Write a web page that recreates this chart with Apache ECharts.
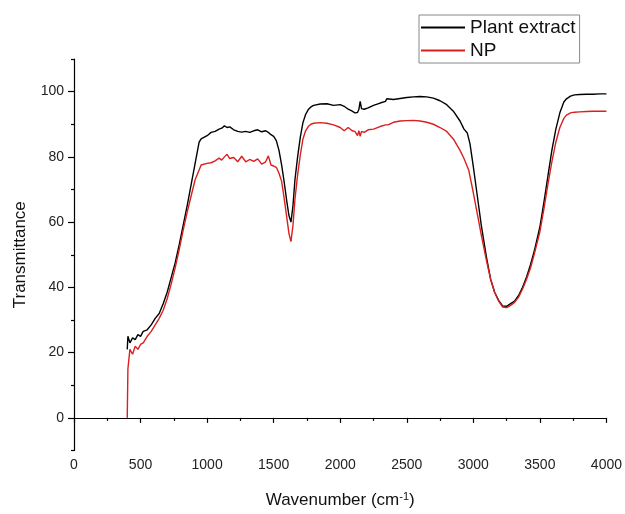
<!DOCTYPE html>
<html>
<head>
<meta charset="utf-8">
<script src="https://cdn.jsdelivr.net/npm/echarts@6/dist/echarts.min.js"></script>
<style>
html,body{margin:0;padding:0;background:#fff;}
#chart{width:625px;height:514px;}
</style>
</head>
<body>
<div id="chart"></div>
<script>
var seriesNames = ['Plant extract', 'NP'];
var wavenumber = [400,405,420,440,460,480,500,520,550,580,610,640,670,700,730,760,790,820,850,880,910,940,955,970,1000,1030,1060,1090,1110,1130,1150,1170,1200,1230,1260,1290,1320,1350,1380,1410,1440,1460,1480,1500,1520,1540,1560,1580,1600,1615,1630,1645,1660,1680,1700,1720,1740,1760,1780,1800,1850,1900,1950,2000,2030,2060,2090,2110,2130,2140,2150,2160,2180,2210,2250,2300,2340,2350,2360,2400,2450,2500,2550,2600,2650,2700,2750,2800,2850,2900,2930,2955,2965,2975,3000,3030,3060,3100,3130,3160,3190,3220,3250,3280,3310,3340,3370,3400,3430,3460,3500,3530,3560,3590,3620,3650,3680,3700,3730,3760,3800,3850,3900,3950,4000];
var plantExtract = [21,25,23,24.5,24,25.5,25,26.5,27,28.5,30.5,32,35,38.5,43,47.5,53,59,65,71.5,78,84.5,85.5,85.8,86.5,87.5,87.8,88.5,88.8,89.5,89,89.2,88.3,87.8,87.6,87.8,87.5,88,88.3,87.7,88,87.5,86.8,86.3,85,82,77.5,72,66,62,60,65,73,80,86,90.5,93,94.5,95.3,95.8,96.2,96.3,95.8,96,95.5,94.6,94,93.5,93.6,94.5,97,94.8,94.6,95,95.8,96.5,97,97.8,97.2,97.6,97.9,98.2,98.4,98.5,98.4,98,97.2,96,94,91,88.5,87.3,87.5,84,77,68,59,49,42.5,38.5,36,34.3,34.2,35,35.8,37.5,40,43.2,47,51.5,58.5,66,74,82,88.5,93.5,96.8,97.8,98.6,99,99.1,99.2,99.2,99.3,99.3];
var np = [0,15,21,19.5,22,21,22.5,23,25,26.5,28.5,30.5,33,36.5,41,46,51.5,57.5,63,68,73,76,77.5,77.8,78,78.2,78.8,79.6,79,80,80.8,79.5,79.8,78.5,80.2,78.5,79.2,78.6,79.4,77.8,78.5,80.3,77.5,77.2,76.8,75,72.5,67,61,56.5,54,59,67,74.5,80.5,85.5,88,89.3,90,90.3,90.5,90.3,89.8,89,88,89,88,87.8,86.5,88,86.3,87.8,87.5,88.3,88.5,89.3,89.8,90.2,89.8,90.6,91,91.1,91.2,91,90.6,90,89,87.8,85.5,82,79.5,77,76,74,69,62.5,56,48,42.5,38.5,35.8,34,33.8,34.5,35.4,37,39.5,42.5,46,50.5,57,64,71.5,78.5,84.5,89,91.8,92.8,93.5,93.7,93.8,93.9,94,94,94];
var yTickLabels = [0,20,40,60,80,100];
var yMinorTicks = [-10,10,30,50,70,90,110];

function pairs(xs, ys){ return xs.map(function(x,i){ return [x, ys[i]]; }); }
function plain(v){ return String(v); }

var chart = echarts.init(document.getElementById('chart'), null, {renderer:'canvas'});
var font = 'Liberation Sans, Arial, sans-serif';
chart.setOption({
  animation: false,
  backgroundColor: '#fff',
  grid: {left: 74, right: 16, top: 59, bottom: 63, containLabel: false},
  legend: {
    left: 419, top: 15, orient: 'vertical',
    borderColor: '#888', borderWidth: 1, padding: [1, 4, 1, 2],
    itemGap: 0, itemWidth: 44, itemHeight: 2, icon: 'rect',
    textStyle: {fontSize: 19, lineHeight: 23, color: '#111', fontFamily: font},
    data: seriesNames
  },
  xAxis: {
    type: 'value', min: 0, max: 4000, interval: 500,
    name: 'Wavenumber (cm{sup|-1})', nameLocation: 'middle', nameGap: 41,
    nameTextStyle: {fontSize: 17, color: '#111', fontFamily: font,
      rich: {sup: {fontSize: 11, verticalAlign: 'top', color: '#111', fontFamily: font, padding: [0,0,7,0]}}},
    axisLine: {lineStyle: {color: '#000', width: 1.2}},
    axisTick: {inside: false, length: 5, lineStyle: {color: '#000', width: 1.2}},
    minorTick: {show: true, splitNumber: 2, length: 3, lineStyle: {color: '#000', width: 1.2}},
    axisLabel: {fontSize: 14, color: '#222', margin: 8, fontFamily: font, formatter: plain},
    splitLine: {show: false}
  },
  yAxis: [{
    type: 'value', min: -10, max: 110,
    name: 'Transmittance', nameLocation: 'middle', nameGap: 45,
    nameTextStyle: {fontSize: 17, color: '#111', fontFamily: font},
    axisLine: {show: true, lineStyle: {color: '#000', width: 1.2}},
    axisTick: {show: true, length: 6, customValues: yTickLabels, lineStyle: {color: '#000', width: 1.2}},
    axisLabel: {fontSize: 14, color: '#222', margin: 10, customValues: yTickLabels, fontFamily: font, formatter: plain},
    splitLine: {show: false}
  }, {
    type: 'value', min: -10, max: 110, position: 'left',
    axisLine: {show: false},
    axisTick: {show: true, length: 3, customValues: yMinorTicks, lineStyle: {color: '#000', width: 1.2}},
    axisLabel: {show: false},
    splitLine: {show: false}
  }],
  series: [{
    name: seriesNames[0], type: 'line', yAxisIndex: 0, symbol: 'none',
    data: pairs(wavenumber, plantExtract),
    lineStyle: {color: '#000', width: 1.4}, itemStyle: {color: '#000'}
  }, {
    name: seriesNames[1], type: 'line', yAxisIndex: 0, symbol: 'none',
    data: pairs(wavenumber, np),
    lineStyle: {color: '#d9201e', width: 1.4}, itemStyle: {color: '#d9201e'}
  }]
});
</script>
</body>
</html>
